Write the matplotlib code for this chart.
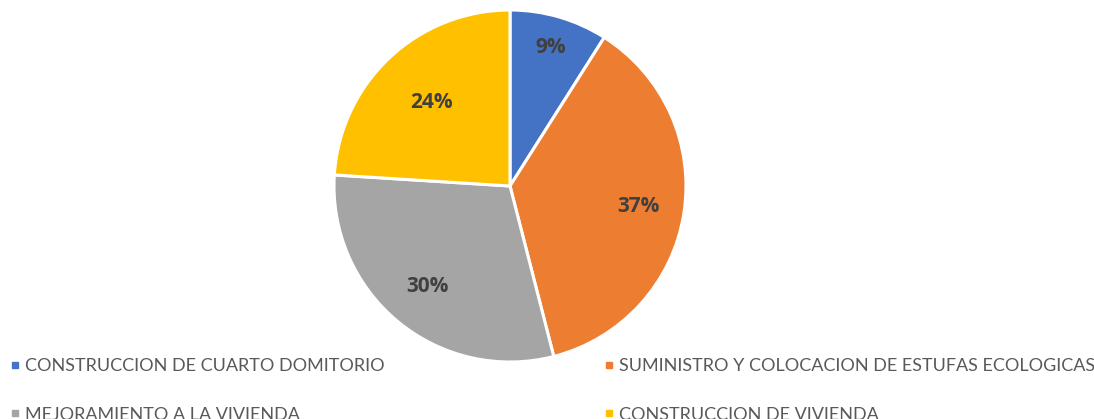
import numpy as np
import matplotlib
matplotlib.use('Agg')
import matplotlib.pyplot as plt
from matplotlib.lines import Line2D

# Project shares
categories = ['CONSTRUCCION DE CUARTO DOMITORIO',
              'SUMINISTRO Y COLOCACION DE ESTUFAS ECOLOGICAS',
              'MEJORAMIENTO A LA VIVIENDA',
              'CONSTRUCCION DE VIVIENDA']
shares = [9, 37, 30, 24]
colors = ['#4472C4', '#ED7D31', '#A5A5A5', '#FFC000']
label_dist = [0.82, 0.74, 0.74, 0.65]

plt.rcParams['font.family'] = ['Lato', 'DejaVu Sans']

W, H = 1094, 419
fig = plt.figure(figsize=(W / 100, H / 100), dpi=100)

# pie centre and radius in pixels
cx, cy, r = 510, 186, 176
ax = fig.add_axes([(cx - r) / W, (H - cy - r) / H, 2 * r / W, 2 * r / H])

wedges, texts, autotexts = ax.pie(
    shares, colors=colors, startangle=90, counterclock=False,
    autopct='%1.0f%%', pctdistance=0.75,
    wedgeprops=dict(edgecolor='white', linewidth=2.2),
    textprops=dict(color='#404040', fontsize=15, fontweight='bold',
                   family=['Open Sans', 'DejaVu Sans']))

# move percentage labels along each wedge's bisector
for w, t, d in zip(wedges, autotexts, label_dist):
    ang = np.deg2rad((w.theta1 + w.theta2) / 2)
    t.set_position((d * np.cos(ang), d * np.sin(ang)))

ax.set_xlim(-1, 1)
ax.set_ylim(-1, 1)
ax.axis('off')

def handles(idx):
    return [Line2D([], [], marker='s', linestyle='none', markersize=5,
                   color=colors[i], label=categories[i]) for i in idx]

leg_kw = dict(frameon=False, fontsize=13, labelcolor='#595959',
              handlelength=0.6, handletextpad=0.25, labelspacing=1.8,
              borderpad=0, loc='upper left')
fig.legend(handles=handles([0, 2]), bbox_to_anchor=(1 / W, 1 - 349 / H), **leg_kw)
fig.legend(handles=handles([1, 3]), bbox_to_anchor=(595 / W, 1 - 349 / H), **leg_kw)

fig.savefig('out.png', dpi=100)
